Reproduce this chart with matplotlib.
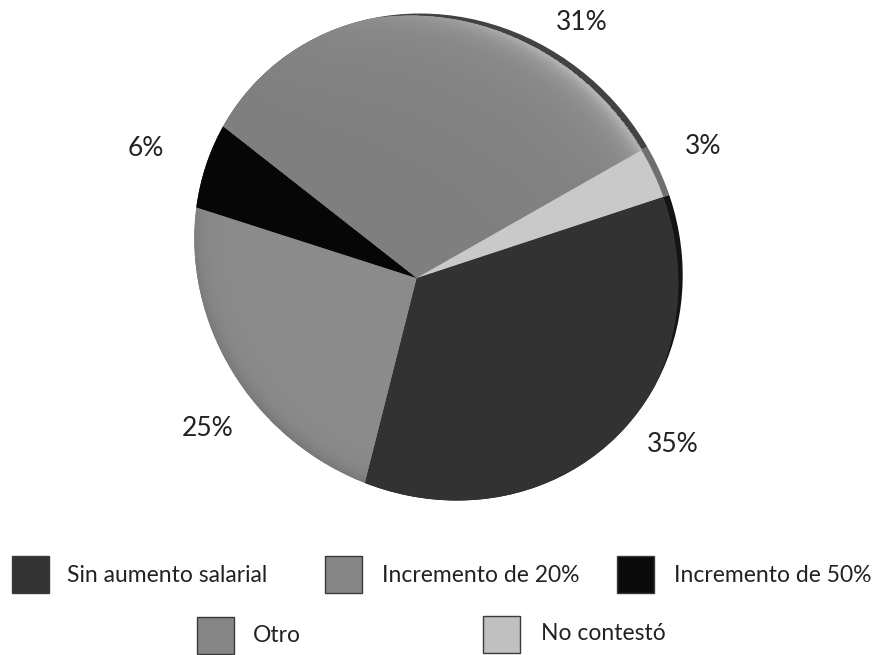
import numpy as np
import matplotlib
matplotlib.use('Agg')
import matplotlib.pyplot as plt
from matplotlib.patches import Rectangle, Circle, Polygon
from matplotlib.transforms import Affine2D

categories = ['Sin aumento salarial', 'Incremento de 20%', 'Incremento de 50%', 'Otro', 'No contestó']
values = [35, 25, 6, 31, 3]
labels = ['35%', '25%', '6%', '31%', '3%']
colors = ['#323232', '#8b8b8b', '#060606', '#7f7f7f', '#c9c9c9']
rim_colors = ['#141414', '#8b8b8b', '#060606', '#424242', '#6f6f6f']
swatch_colors = ['#333333', '#858585', '#0a0a0a', '#858585', '#c0c0c0']

W, H = 872, 655
plt.rcParams['font.family'] = ['Lato', 'DejaVu Sans']
fig = plt.figure(figsize=(W/100, H/100), dpi=100)
ax = fig.add_axes([0, 0, 1, 1])

# apex of the slices and the outline of the (slightly sheared) disc, in pixels (y up)
ax_x, ax_y = 415, H - 278
cx, cy, R = 438.5, H - 257, 243.5
k = -0.076
shear = Affine2D().translate(-cx, -cy) + Affine2D(np.array([[1, k, 0], [0, 1, 0], [0, 0, 1.0]])) + Affine2D().translate(cx, cy)

def draw_pie(cols, clip):
    wedges, _ = ax.pie(values, colors=cols, startangle=17.8, counterclock=False,
                       center=(ax_x, ax_y), radius=420, frame=True,
                       wedgeprops=dict(linewidth=0))
    for w in wedges:
        w.set_transform(shear + ax.transData)
        w.set_clip_on(True)
        w.set_clip_path(clip)
    return wedges

# disc outline, and the face of the disc: it leaves a thin crescent of rim at the upper right
outer = Circle((cx, cy), R, transform=shear + ax.transData)
rim_dir = np.radians(35)
s, ri = 12.0, R + 5.0
ic = np.array([-s * np.cos(rim_dir), -s * np.sin(rim_dir)])
phi = np.linspace(0, 2 * np.pi, 720, endpoint=False)
dirs = np.column_stack([np.cos(phi), np.sin(phi)])
proj = dirs @ ic
t = proj + np.sqrt(proj ** 2 - ic @ ic + ri ** 2)
rad = np.minimum(R, t)
face = Polygon(np.column_stack([cx + rad * dirs[:, 0], cy + rad * dirs[:, 1]]), closed=True,
               transform=shear + ax.transData)

draw_pie(rim_colors, outer)
wedges = draw_pie(colors, face)

ax.set_xlim(0, W)
ax.set_ylim(0, H)
ax.set_aspect('auto')
ax.axis('off')

# soft shading of the disc: highlight at the upper right, darker at the lower left
yy, xx = np.mgrid[0.5:H, 0.5:W]
uy = yy - cy
ux = xx - cx - k * uy
rr_in = np.hypot(ux - ic[0], uy - ic[1])
rr = np.hypot(ux, uy)
th = np.arctan2(uy, ux)
d_in = np.clip(ri - rr_in, 0, None)
d = np.clip(R - rr, 0, None)
inside = (rr_in < ri) & (rr < R)
light = 0.36 * np.exp(-d_in / 9) * np.clip(np.cos(th - np.radians(42)), 0, 1) ** 3
light += 0.13 * np.exp(-d_in / 60) * np.clip(np.cos(th - np.radians(50)), 0, 1)
rgba = np.ones((H, W, 4))
rgba[..., 3] = light * inside
im = ax.imshow(rgba, extent=(0, W, 0, H), origin='lower', zorder=3, aspect='auto')
im.set_clip_path(wedges[3])

dark = 0.15 * np.exp(-d / 9) * np.clip(np.cos(th - np.radians(225)), 0, 1)
rgba2 = np.zeros((H, W, 4))
rgba2[..., 3] = dark * inside
im2 = ax.imshow(rgba2, extent=(0, W, 0, H), origin='lower', zorder=3, aspect='auto')
im2.set_clip_path(wedges[1])
ax.set_xlim(0, W); ax.set_ylim(0, H)

pos = [(673, 445), (208, 428), (146, 148), (582, 22), (703, 146)]
for t_, (x, y) in zip(labels, pos):
    ax.text(x, H - y, t_, fontsize=19, ha='center', va='center', color='#222222', zorder=5)

leg = [(12, 556, 67, 575), (325, 556, 382, 575), (617, 556, 674, 575), (197, 617, 253, 636), (483, 616, 541, 633)]
for c, col, (x, y, tx, ty) in zip(categories, swatch_colors, leg):
    ax.add_patch(Rectangle((x, H - y - 37), 37, 37, fc=col, ec='#3a3a3a', lw=1.0, zorder=5))
    ax.text(tx, H - ty, c, fontsize=16.5, va='center', ha='left', color='#222222', zorder=5)
fig.savefig('out.png', dpi=100)
